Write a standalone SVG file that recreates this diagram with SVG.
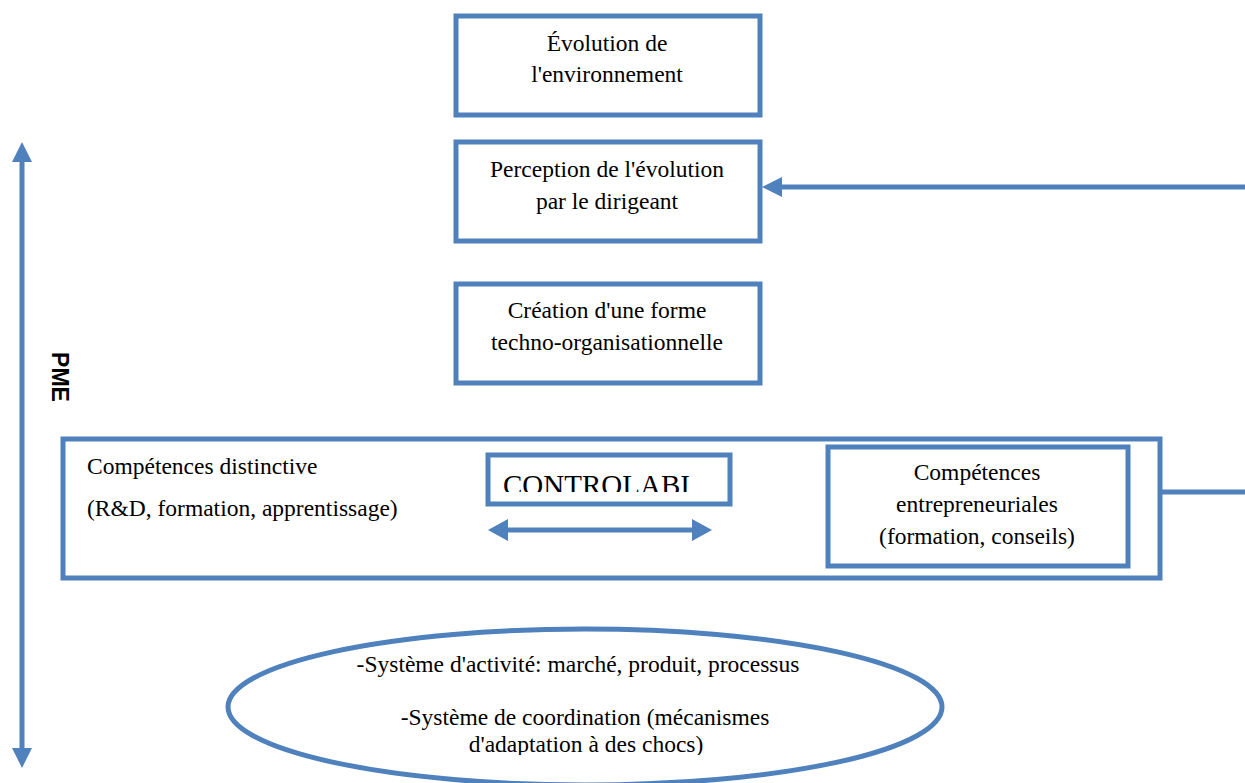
<svg xmlns="http://www.w3.org/2000/svg" width="1245" height="783" viewBox="0 0 1245 783">
<defs>
<style>
.b{fill:#fff;stroke:#4F81BD;stroke-width:5}
.l{fill:none;stroke:#4F81BD;stroke-width:5}
text{font-family:'Liberation Serif','DejaVu Serif',serif;font-size:23.5px;fill:#000}
.c{text-anchor:middle}
</style>
<marker id="ah" markerWidth="4" markerHeight="4" refX="0.5" refY="2" orient="auto" markerUnits="strokeWidth">
<path d="M0,0 L4,2 L0,4 z" fill="#4F81BD"/>
</marker>
<clipPath id="cc"><rect x="490" y="457" width="238" height="35"/></clipPath>
<clipPath id="ce"><rect x="0" y="0" width="1245" height="755"/></clipPath>
</defs>
<rect width="1245" height="783" fill="#fff"/>
<g id="connectors">
<line class="l" x1="22" y1="420" x2="22" y2="159.5" marker-end="url(#ah)"/>
<line class="l" x1="22" y1="420" x2="22" y2="750.5" marker-end="url(#ah)"/>
<line class="l" x1="1245" y1="187" x2="779.5" y2="187" marker-end="url(#ah)"/>
<line class="l" x1="1160" y1="492" x2="1245" y2="492"/>
</g>
<g id="n1"><rect class="b" x="456" y="16" width="304" height="99"/>
<text class="c" x="607" y="51">Évolution de</text><text class="c" x="607" y="82">l'environnement</text></g>
<g id="n2"><rect class="b" x="456" y="142" width="304" height="99"/>
<text class="c" x="607" y="177">Perception de l'évolution</text><text class="c" x="607" y="209">par le dirigeant</text></g>
<g id="n3"><rect class="b" x="456" y="284" width="304" height="99"/>
<text class="c" x="607" y="318">Création d'une forme</text><text class="c" x="607" y="350">techno-organisationnelle</text></g>
<g id="n4"><rect class="b" x="63" y="439" width="1097" height="139"/>
<text x="87" y="474">Compétences distinctive</text>
<text x="87" y="516">(R&amp;D, formation, apprentissage)</text></g>
<g id="n5"><rect class="b" x="828" y="447" width="300" height="119"/>
<text class="c" x="977" y="480">Compétences</text><text class="c" x="977" y="512">entrepreneuriales</text><text class="c" x="977" y="544">(formation, conseils)</text></g>
<g id="n6"><rect class="b" x="488" y="455" width="242" height="49"/>
<text x="503" y="495" clip-path="url(#cc)" style="font-size:29px">CONTROLABI</text></g>
<g id="arr2">
<line class="l" x1="505" y1="530" x2="695" y2="530"/>
<path d="M488,530 L508,519 L508,541 z" fill="#4F81BD"/>
<path d="M712,530 L692,519 L692,541 z" fill="#4F81BD"/>
</g>
<g id="pme"><text x="60" y="385" transform="rotate(90 60 377)" text-anchor="middle" style="font-family:'Liberation Sans',Arial,sans-serif;font-size:23px;font-weight:bold">PME</text></g>
<g id="n7"><ellipse class="l" cx="585" cy="707" rx="357" ry="78" fill="#fff"/>
<g clip-path="url(#ce)">
<text class="c" x="578" y="672">-Système d'activité: marché, produit, processus</text>
<text class="c" x="585" y="725">-Système de coordination (mécanismes</text>
<text class="c" x="586" y="752">d'adaptation à des chocs)</text></g></g>
</svg>
